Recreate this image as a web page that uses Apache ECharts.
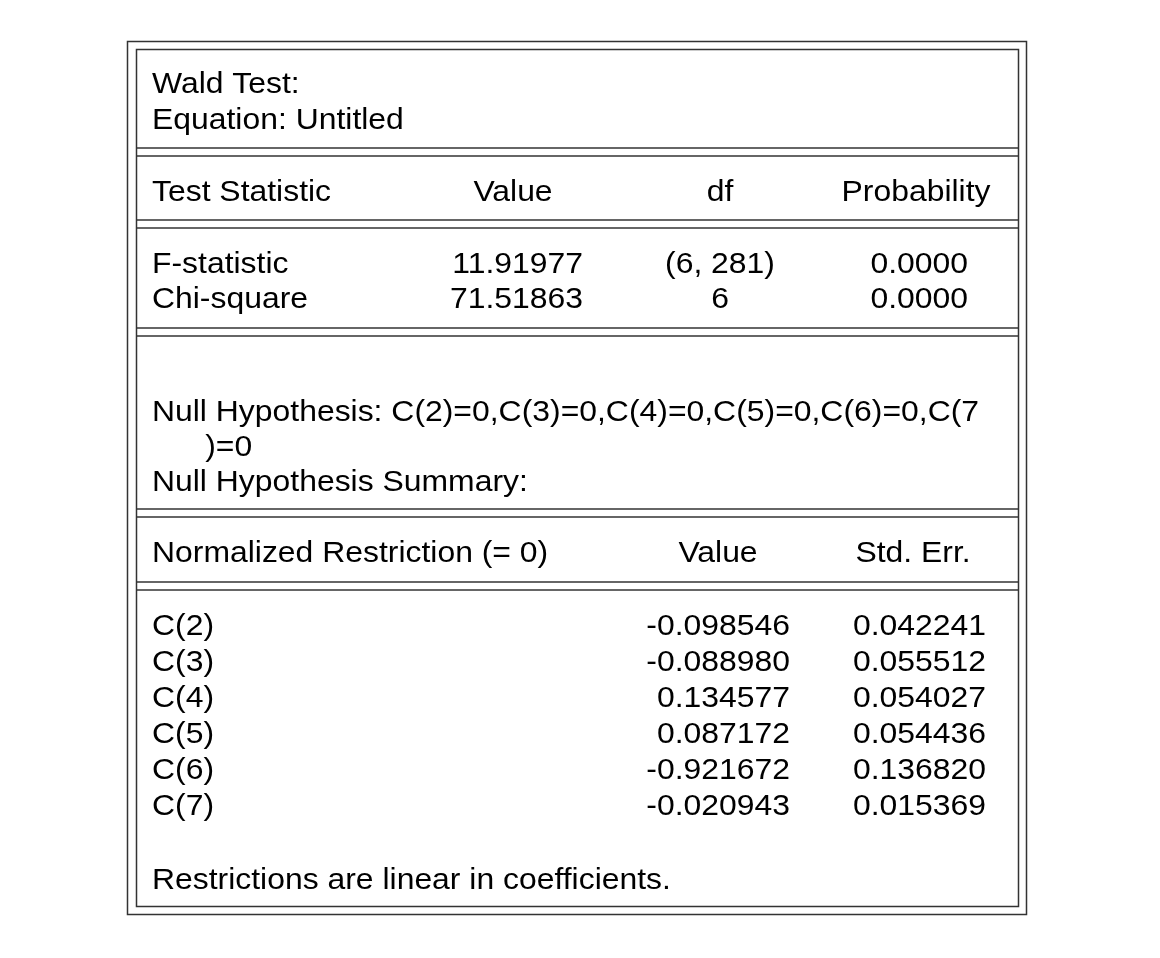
<!DOCTYPE html>
<html><head><meta charset="utf-8">
<script src="https://cdn.jsdelivr.net/npm/echarts@6/dist/echarts.min.js"></script>
<style>html,body{margin:0;padding:0;background:#fff}#c{width:1160px;height:958px}</style>
</head><body><div id="c"></div>
<script>
const titleLines = ["Wald Test:", "Equation: Untitled"];
const statHeaders = ["Test Statistic", "Value", "df", "Probability"];
const statNames = ["F-statistic", "Chi-square"];
const statValues = ["11.91977", "71.51863"];
const statDf = ["(6, 281)", "6"];
const statProb = ["0.0000", "0.0000"];
const nullLines = ["Null Hypothesis: C(2)=0,C(3)=0,C(4)=0,C(5)=0,C(6)=0,C(7", "      )=0", "Null Hypothesis Summary:"];
const restrHeaders = ["Normalized Restriction (= 0)", "Value", "Std. Err."];
const restrNames = ["C(2)", "C(3)", "C(4)", "C(5)", "C(6)", "C(7)"];
const restrValues = ["-0.098546", "-0.088980", "0.134577", "0.087172", "-0.921672", "-0.020943"];
const restrSE = ["0.042241", "0.055512", "0.054027", "0.054436", "0.136820", "0.015369"];
const footer = "Restrictions are linear in coefficients.";

const FONT = '29px "Liberation Sans", Arial, sans-serif';
const SX = 1.1;
const els = [];
function txt(s, x, y, align) {
  els.push({type:'text', x:x, y:y+3, scaleX:SX, style:{text:s, x:0, y:0, font:FONT, fill:'#000', textAlign:align||'left', textVerticalAlign:'middle'}});
}
function hline(y) {
  els.push({type:'line', shape:{x1:136, y1:y, x2:1018, y2:y}, style:{stroke:'#333', lineWidth:1.5}});
}
els.push({type:'rect', shape:{x:127.5, y:41.5, width:899, height:873}, style:{fill:'none', stroke:'#333', lineWidth:1.5}});
els.push({type:'rect', shape:{x:136.5, y:49.5, width:882, height:857}, style:{fill:'none', stroke:'#333', lineWidth:1.5}});
[148,156,220,228,328,336,509,517,582,590].forEach(hline);

titleLines.forEach((s,i)=>txt(s,152,82+i*36));
txt(statHeaders[0],152,190);
txt(statHeaders[1],513,190,'center');
txt(statHeaders[2],720,190,'center');
txt(statHeaders[3],916,190,'center');
statNames.forEach((s,i)=>{
  const y=262+i*35;
  txt(s,152,y);
  txt(statValues[i],583,y,'right');
  txt(statDf[i],720,y,'center');
  txt(statProb[i],968,y,'right');
});
nullLines.forEach((s,i)=>txt(s,152,410+i*35));
txt(restrHeaders[0],152,551);
txt(restrHeaders[1],718,551,'center');
txt(restrHeaders[2],913,551,'center');
restrNames.forEach((s,i)=>{
  const y=624+i*36;
  txt(s,152,y);
  txt(restrValues[i],790,y,'right');
  txt(restrSE[i],986,y,'right');
});
txt(footer,152,878);

const chart = echarts.init(document.getElementById('c'));
chart.setOption({animation:false, graphic:{elements:els}});
</script></body></html>
